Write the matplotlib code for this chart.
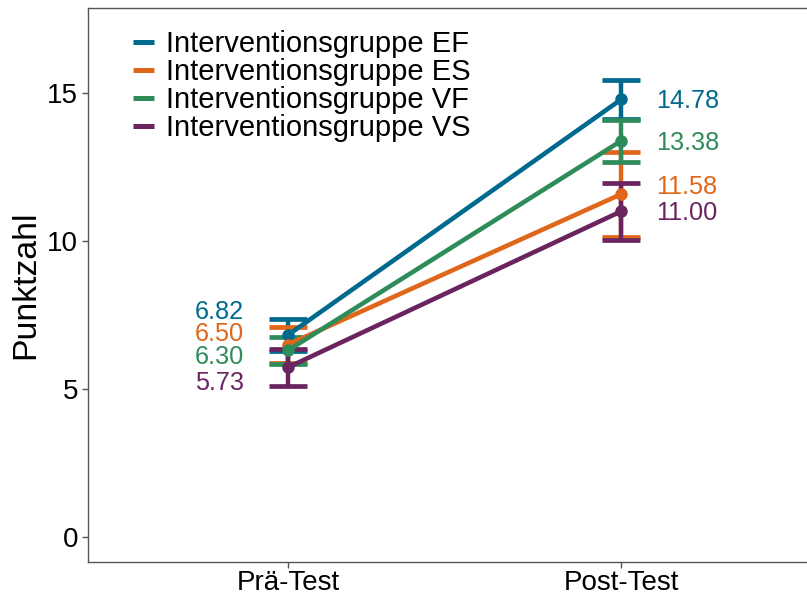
import matplotlib
matplotlib.use("Agg")
import matplotlib.pyplot as plt
import numpy as np

plt.rcParams['font.family'] = ['Liberation Sans', 'DejaVu Sans']

timepoints = ["Prä-Test", "Post-Test"]
groups = ["Interventionsgruppe EF", "Interventionsgruppe ES",
          "Interventionsgruppe VF", "Interventionsgruppe VS"]
colors = ["#006A8E", "#E0661A", "#2E8B5A", "#6A2560"]
means_pre = [6.82, 6.50, 6.30, 5.73]
means_post = [14.78, 11.58, 13.38, 11.00]
err_pre = [0.55, 0.61, 0.45, 0.63]
err_post = [0.65, 1.43, 0.71, 0.97]
# label vertical placement (manual offsets to avoid overlap)
label_y_pre = [7.60, 6.86, 6.08, 5.20]
label_y_post = [14.73, 11.82, 13.31, 10.95]

W, H = 807, 595
fig = plt.figure(figsize=(W / 100, H / 100), dpi=100)
ax = fig.add_axes([88 / W, (H - 562) / H, (821 - 88) / W, (562 - 8) / H])

x = np.arange(1, len(timepoints) + 1)
for i, g in enumerate(groups):
    m = [means_pre[i], means_post[i]]
    e = [err_pre[i], err_post[i]]
    ax.errorbar(x, m, yerr=e, fmt='none', ecolor=colors[i], elinewidth=3.2,
                capsize=13.5, capthick=3.4, zorder=2 + i)
for i, g in enumerate(groups):
    m = [means_pre[i], means_post[i]]
    ax.plot(x, m, color=colors[i], lw=3.3, marker='o', ms=8, label=g,
            zorder=10 + i, solid_capstyle='butt')
    ax.text(1 - 0.132, label_y_pre[i], f"{means_pre[i]:.2f}", color=colors[i],
            fontsize=18.2, ha='right', va='center')
    ax.text(2 + 0.105, label_y_post[i], f"{means_post[i]:.2f}", color=colors[i],
            fontsize=18.2, ha='left', va='center')

ax.set_xlim(0.4, 2.6)
ax.set_ylim(-0.845, 17.87)
ax.set_xticks(x)
ax.set_xticklabels(timepoints)
ax.set_yticks([0, 5, 10, 15])
ax.set_ylabel("Punktzahl", fontsize=24.3, labelpad=4)
ax.tick_params(axis='both', labelsize=20, length=4, width=1, color='#555555',
               labelcolor='black', pad=3)
ax.tick_params(axis='x', pad=1.5)
for s in ['left', 'bottom', 'top']:
    ax.spines[s].set_color('#555555')
    ax.spines[s].set_linewidth(1)
ax.spines['right'].set_visible(False)

handles = [plt.Line2D([], [], color=c, lw=3.6, solid_capstyle='butt') for c in colors]
leg = ax.legend(handles, groups, loc='upper left', bbox_to_anchor=(0.062, 0.96),
                frameon=False, fontsize=21, handlelength=0.72, handletextpad=0.38,
                labelspacing=0.0, borderaxespad=0, borderpad=0)

fig.savefig("out.png", dpi=100)
